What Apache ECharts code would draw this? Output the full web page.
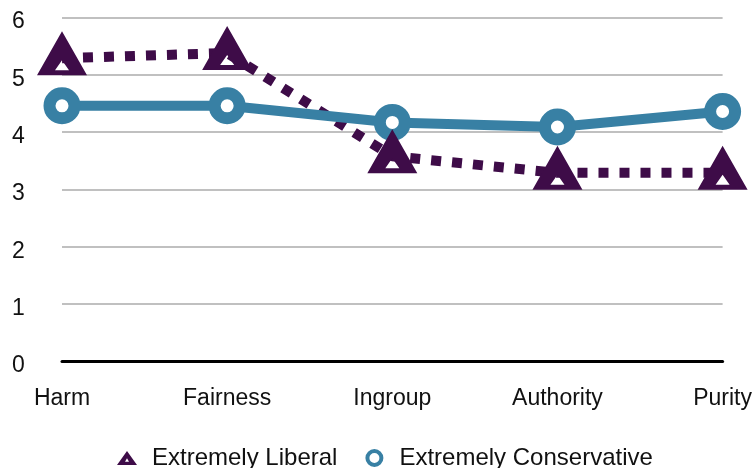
<!DOCTYPE html>
<html>
<head>
<meta charset="utf-8">
<script src="https://cdn.jsdelivr.net/npm/echarts@6/dist/echarts.min.js"></script>
<style>
  html, body { margin: 0; padding: 0; background: #fff; }
  #chart { width: 755px; height: 468px; }
</style>
</head>
<body>
<div id="chart"></div>
<script>
// 数据
const categories = ['Harm', 'Fairness', 'Ingroup', 'Authority', 'Purity'];
const liberalValues = [5.29, 5.38, 3.58, 3.29, 3.29];
const conservativeValues = [4.46, 4.46, 4.17, 4.09, 4.36];
const yTicks = [0, 6, 1]; // min, max, interval

const purple = '#3e0c48';
const blue = '#3880a4';
const fontFamily = 'Helvetica, Arial, "Liberation Sans", sans-serif';

// 三角形标记：外三角顺时针，内三角逆时针，形成中间的小白孔
const legendTriangle = 'path://M25,0 L50,43 L0,43 Z M25,22 L20,33 L30,33 Z';
const markerTriangle = 'path://M25,0 L50,44 L0,44 Z M25,29 L18,39 L32,39 Z';

const chart = echarts.init(document.getElementById('chart'));

/**
 * 标记点用散点系列来画，线用折线系列（不显示标记）
 */
function markerSeries(name, values, symbol, size, offset, itemStyle, z) {
    return {
        name: name,
        type: 'scatter',
        data: values,
        symbol: symbol,
        symbolSize: size,
        symbolOffset: offset,
        symbolKeepAspect: false,
        z: z,
        silent: true,
        itemStyle: itemStyle
    };
}

const option = {
    backgroundColor: '#fff',
    animation: false,
    grid: {
        left: 62,
        right: 28,
        top: 17.5,
        bottom: 106.5
    },
    legend: {
        left: 117,
        top: 446,
        padding: 0,
        itemWidth: 20,
        itemHeight: 14,
        itemGap: 28,
        symbolKeepAspect: false,
        textStyle: {
            fontFamily: fontFamily,
            fontSize: 24,
            color: '#111',
            padding: [0, 0, 0, 10]
        },
        data: [
            { name: 'Extremely Liberal', icon: legendTriangle, itemStyle: { color: purple, borderWidth: 0 } },
            { name: 'Extremely Conservative', icon: 'circle', itemStyle: { color: '#fff', borderColor: blue, borderWidth: 4 } }
        ]
    },
    xAxis: {
        type: 'category',
        data: categories,
        boundaryGap: false,
        axisLine: { lineStyle: { color: '#000', width: 3 } },
        axisTick: { show: false },
        axisLabel: {
            fontFamily: fontFamily,
            fontSize: 23,
            color: '#111',
            margin: 26
        }
    },
    yAxis: {
        type: 'value',
        min: yTicks[0],
        max: yTicks[1],
        interval: yTicks[2],
        axisLine: { show: false },
        axisTick: { show: false },
        splitLine: { lineStyle: { color: '#c0c0c0', width: 2 } },
        axisLabel: {
            align: 'left',
            margin: 50,
            formatter: '{v|{value}}',
            rich: {
                v: {
                    fontFamily: fontFamily,
                    fontSize: 23,
                    color: '#111',
                    padding: [9, 0, 0, 0]
                }
            }
        }
    },
    series: [
        {
            name: 'Extremely Liberal',
            type: 'line',
            data: liberalValues,
            showSymbol: false,
            z: 2,
            lineStyle: { color: purple, width: 10, type: [10, 11], cap: 'butt' },
            itemStyle: { color: purple }
        },
        {
            name: 'Extremely Conservative',
            type: 'line',
            data: conservativeValues,
            showSymbol: false,
            z: 3,
            lineStyle: { color: blue, width: 10 },
            itemStyle: { color: blue }
        },
        // 蓝色空心圆
        markerSeries('Extremely Conservative', conservativeValues, 'circle', 25, [0, 0],
            { color: '#fff', borderColor: blue, borderWidth: 12, opacity: 1 }, 4),
        // 紫色三角（带小白孔），中心略高于数据点
        markerSeries('Extremely Liberal', liberalValues, markerTriangle, [50, 44], [0, -5],
            { color: purple, borderWidth: 0, opacity: 1 }, 5)
    ]
};

chart.setOption(option);
</script>
</body>
</html>
